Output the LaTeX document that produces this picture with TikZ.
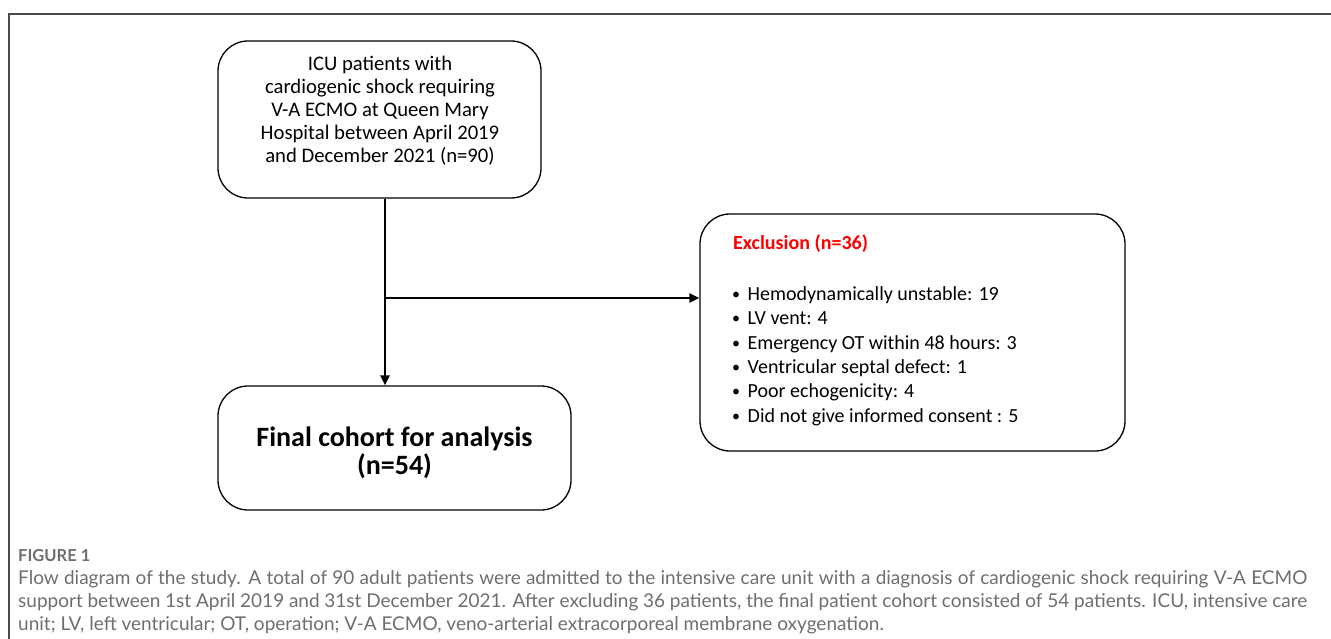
\documentclass[tikz,border=0pt]{standalone}
\usepackage{fontspec}
\setmainfont{Carlito}
\newfontfamily\capfont{Lato}
\usetikzlibrary{arrows.meta,calc}
\definecolor{capgray}{HTML}{6E6E6E}
\definecolor{framegray}{HTML}{4A4A4A}
\definecolor{exred}{HTML}{FF0000}
\newcommand{\smbul}{\makebox[14.5pt][l]{\hspace*{-1pt}\raisebox{1pt}{\fontsize{16}{16}\selectfont•}}}
\tikzset{
  flowbox/.style={draw=black, line width=1.3pt, rounded corners=30pt, inner sep=0pt, align=center},
  conn/.style={line width=2.6pt, -{Triangle[length=10pt,width=9pt]}},
  captext/.style={anchor=west, inner sep=0pt, text=capgray, font=\capfont\fontsize{19}{22}\selectfont},
  exitem/.style={anchor=base west, inner sep=0pt, font=\fontsize{20}{24}\selectfont},
}
\begin{document}
\begin{tikzpicture}[x=1pt,y=-1pt]
\useasboundingbox (0,0) rectangle (1331,639);
% frame
\draw[framegray, line width=1.2pt] (9,639) -- (9,14) -- (1331,14);
% boxes
\node[flowbox, minimum width=323pt, minimum height=157pt] (top) at (379.5,119.5) {};
\node[align=center, inner sep=0pt, font=\fontsize{20.7}{23.1}\selectfont] (toptext) at (380,111)
  {ICU patients with\\cardiogenic shock requiring\\V-A ECMO at Queen Mary\\Hospital between April 2019\\and December 2021 (n=90)};
\node[flowbox, minimum width=353pt, minimum height=124pt] (final) at (394.5,448) {};
\node[align=center, inner sep=0pt, font=\bfseries\fontsize{28}{28.5}\selectfont] (finaltext) at (394.5,453)
  {Final cohort for analysis\\(n=54)};
\node[flowbox, minimum width=425pt, minimum height=237pt] (excl) at (912.5,332.5) {};
\node[anchor=base west, inner sep=0pt, text=exred, font=\bfseries\fontsize{20}{24}\selectfont] (extitle) at (733,250) {Exclusion (n=36)};
\node[exitem] (l1) at (733,300) {\smbul Hemodynamically unstable: 19};
\node[exitem] (l2) at (733,324.5) {\smbul LV vent: 4};
\node[exitem] (l3) at (733,349) {\smbul Emergency OT within 48 hours: 3};
\node[exitem] (l4) at (733,373) {\smbul Ventricular septal defect: 1};
\node[exitem] (l5) at (733,397.5) {\smbul Poor echogenicity: 4};
\node[exitem] (l6) at (733,422) {\smbul Did not give informed consent : 5};
% connectors
\coordinate (j) at (385,298);
\draw[conn] (top.south -| j) -- (final.north -| j);
\draw[conn] (j) -- (excl.west |- j);
% caption
\node[anchor=west, inner sep=0pt, text=capgray, font=\capfont\bfseries\fontsize{16.5}{18}\selectfont] (figlabel) at (18,556) {FIGURE 1};
\node[captext] (cap1) at (18,579) {\makebox[1289pt][s]{Flow diagram of the study. A total of 90 adult patients were admitted to the intensive care unit with a diagnosis of cardiogenic shock requiring V-A ECMO}};
\node[captext] (cap2) at (18,602) {\makebox[1289pt][s]{support between 1st April 2019 and 31st December 2021. After excluding 36 patients, the final patient cohort consisted of 54 patients. ICU, intensive care}};
\node[captext] (cap3) at (18,625) {unit; LV, left ventricular; OT, operation; V-A ECMO, veno-arterial extracorporeal membrane oxygenation.};
\end{tikzpicture}
\end{document}
